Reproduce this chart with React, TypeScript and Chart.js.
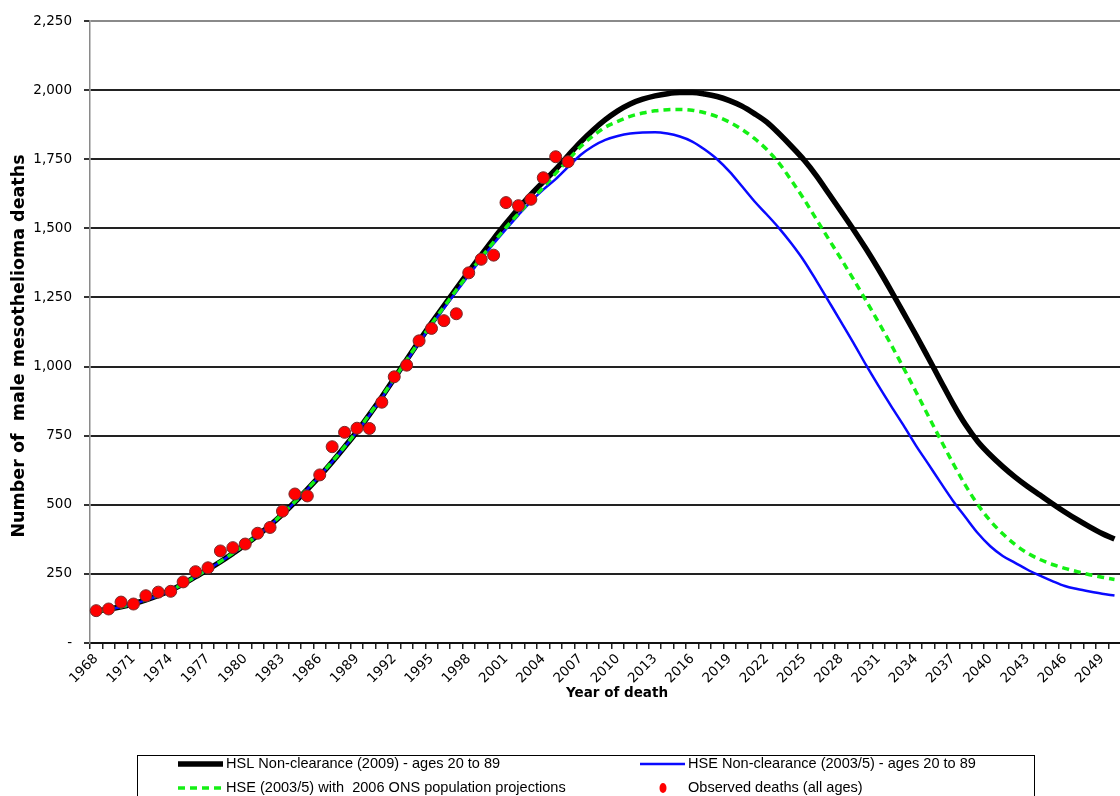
import { useEffect, useRef } from "react";
import { Chart, registerables } from "chart.js";

Chart.register(...registerables);

// Year of death (category axis)
const years = [
  1968, 1969, 1970, 1971, 1972, 1973, 1974, 1975, 1976, 1977,
  1978, 1979, 1980, 1981, 1982, 1983, 1984, 1985, 1986, 1987,
  1988, 1989, 1990, 1991, 1992, 1993, 1994, 1995, 1996, 1997,
  1998, 1999, 2000, 2001, 2002, 2003, 2004, 2005, 2006, 2007,
  2008, 2009, 2010, 2011, 2012, 2013, 2014, 2015, 2016, 2017,
  2018, 2019, 2020, 2021, 2022, 2023, 2024, 2025, 2026, 2027,
  2028, 2029, 2030, 2031, 2032, 2033, 2034, 2035, 2036, 2037,
  2038, 2039, 2040, 2041, 2042, 2043, 2044, 2045, 2046, 2047,
  2048, 2049, 2050,
];

// Years that carry a printed label on the x axis
const xTickLabels = [
  "1968", "1971", "1974", "1977", "1980", "1983", "1986", "1989", "1992",
  "1995", "1998", "2001", "2004", "2007", "2010", "2013", "2016", "2019",
  "2022", "2025", "2028", "2031", "2034", "2037", "2040", "2043", "2046", "2049",
];

// Y axis labels, 0 to 2,250 in steps of 250
const yTickLabels = ["-", "250", "500", "750", "1,000", "1,250", "1,500", "1,750", "2,000", "2,250"];
const yStep = 250;

const xTitle = "Year of death";
const yTitle = "Number of  male mesothelioma deaths";

// HSL Non-clearance (2009) - ages 20 to 89
const hslNonClearance = [
  115, 122, 131, 142, 156, 172, 191, 214, 240, 266,
  294, 324, 355, 389, 426, 466, 510, 556, 604, 655,
  709, 765, 826, 890, 957, 1025, 1092, 1157, 1220, 1282,
  1343, 1403, 1462, 1518, 1572, 1622, 1668, 1713, 1763, 1812,
  1855, 1893, 1925, 1950, 1967, 1979, 1987, 1991, 1991, 1986,
  1977, 1962, 1942, 1915, 1884, 1842, 1796, 1747, 1690, 1625,
  1560, 1494, 1425, 1352, 1275, 1195, 1115, 1032, 948, 865,
  790, 728, 680, 638, 600, 566, 535, 504, 474, 446,
  420, 396, 376,
];

// HSE Non-clearance (2003/5) - ages 20 to 89
const hseNonClearance = [
  114, 121, 130, 141, 155, 171, 190, 213, 239, 266,
  294, 324, 355, 389, 426, 466, 510, 556, 604, 655,
  708, 764, 824, 887, 953, 1020, 1086, 1150, 1211, 1271,
  1330, 1388, 1444, 1497, 1548, 1597, 1640, 1678, 1722, 1765,
  1797, 1820, 1834, 1843, 1847, 1848, 1843, 1832, 1814, 1785,
  1750, 1705, 1652, 1598, 1550, 1500, 1444, 1382, 1310, 1235,
  1160, 1084, 1005, 930, 858, 788, 715, 648, 580, 514,
  455, 397, 350, 315, 290, 265, 244, 224, 206, 195,
  186, 178, 172,
];

// HSE (2003/5) with 2006 ONS population projections
const hseOnsProjection = [
  114, 121, 131, 142, 156, 172, 191, 214, 240, 267,
  295, 325, 356, 390, 427, 467, 511, 557, 605, 656,
  710, 766, 827, 891, 957, 1024, 1090, 1154, 1216, 1277,
  1336, 1394, 1450, 1503, 1553, 1601, 1648, 1699, 1747, 1795,
  1834, 1866, 1887, 1905, 1917, 1925, 1929, 1930, 1927, 1918,
  1904, 1884, 1858, 1825, 1785, 1735, 1672, 1605, 1532, 1460,
  1388, 1314, 1238, 1160, 1080, 996, 910, 822, 735, 650,
  570, 500, 442, 395, 356, 325, 302, 284, 270, 258,
  247, 238, 230,
];

// Observed deaths (all ages), 1968 to 2006
const observedDeaths = [
  117, 123, 148, 141, 171, 184, 187, 221, 258, 272,
  333, 345, 358, 397, 418, 477, 539, 532, 608, 710,
  762, 777, 776, 871, 963, 1005, 1093, 1138, 1166, 1191,
  1339, 1388, 1403, 1593, 1582, 1605, 1683, 1759, 1741,
];

const tickFont = { family: "'DejaVu Sans', sans-serif", size: 13.5 };
const legendFont = "15px 'Liberation Sans', Arial, sans-serif";
const titleFamily = "'DejaVu Sans', sans-serif";

// Axis titles and the two-column boxed legend under the axis
const chartDecor = {
  id: "chartDecor",
  afterDraw(chart: any) {
    const { ctx } = chart;
    ctx.save();
    ctx.fillStyle = "#000";
    ctx.textAlign = "center";
    ctx.textBaseline = "middle";

    ctx.font = `bold 13.5px ${titleFamily}`;
    ctx.fillText(xTitle, 617, 693);

    ctx.save();
    ctx.translate(19, 346);
    ctx.rotate(-Math.PI / 2);
    ctx.font = `bold 17.5px ${titleFamily}`;
    ctx.fillText(yTitle, 0, 0);
    ctx.restore();

    const slots = [
      [178, 764],
      [640, 764],
      [178, 788],
      [640, 788],
    ];
    ctx.strokeStyle = "#000";
    ctx.lineWidth = 1;
    ctx.strokeRect(137.5, 755.5, 897, 80);
    ctx.font = legendFont;
    ctx.textAlign = "left";
    chart.data.datasets.forEach((ds: any, i: number) => {
      const [x, y] = slots[i];
      if (ds.showLine === false) {
        ctx.beginPath();
        ctx.fillStyle = ds.backgroundColor;
        ctx.ellipse(x + 23, y, 3.5, 5, 0, 0, Math.PI * 2);
        ctx.fill();
      } else {
        ctx.beginPath();
        ctx.strokeStyle = ds.borderColor;
        ctx.lineWidth = ds.borderWidth;
        ctx.setLineDash(ds.borderDash || []);
        ctx.moveTo(x, y);
        ctx.lineTo(x + 45, y);
        ctx.stroke();
        ctx.setLineDash([]);
      }
      ctx.fillStyle = "#000";
      ctx.save();
      ctx.translate(x + 48, y);
      ctx.scale(0.97, 1);
      ctx.fillText(ds.label, 0, 0);
      ctx.restore();
    });
    ctx.restore();
  },
};

export default function App() {
  const canvasRef = useRef<HTMLCanvasElement | null>(null);

  useEffect(() => {
    const canvas = canvasRef.current;
    if (!canvas) return;
    const chart = new Chart(canvas, {
      type: "line",
      data: {
        labels: years.map(String),
        datasets: [
          {
            label: "HSL Non-clearance (2009) - ages 20 to 89",
            data: hslNonClearance,
            borderColor: "#000000",
            backgroundColor: "#000000",
            borderWidth: 5.5,
            pointRadius: 0,
            cubicInterpolationMode: "monotone",
            order: 3,
          },
          {
            label: "HSE Non-clearance (2003/5) - ages 20 to 89",
            data: hseNonClearance,
            borderColor: "#0a0aff",
            backgroundColor: "#0a0aff",
            borderWidth: 2.5,
            pointRadius: 0,
            cubicInterpolationMode: "monotone",
            order: 2,
          },
          {
            label: "HSE (2003/5) with  2006 ONS population projections",
            data: hseOnsProjection,
            borderColor: "#14f014",
            backgroundColor: "#14f014",
            borderWidth: 3.5,
            borderDash: [7, 5],
            pointRadius: 0,
            cubicInterpolationMode: "monotone",
            order: 1,
          },
          {
            label: "Observed deaths (all ages)",
            data: observedDeaths,
            showLine: false,
            borderColor: "#7a2a2a",
            backgroundColor: "#ff0000",
            borderWidth: 1,
            pointRadius: 6,
            order: 0,
          },
        ],
      },
      options: {
        responsive: false,
        animation: false,
        events: [],
        layout: { padding: { top: 21, right: 0, bottom: 93, left: 0 } },
        plugins: {
          legend: { display: false },
          tooltip: { enabled: false },
        },
        scales: {
          x: {
            type: "category",
            offset: true,
            grid: {
              offset: true,
              drawOnChartArea: false,
              tickLength: 6,
              tickColor: "#222",
              lineWidth: 1.5,
            },
            border: { color: "#111", width: 2 },
            ticks: {
              autoSkip: false,
              minRotation: 45,
              maxRotation: 45,
              padding: 2,
              color: "#000",
              font: tickFont,
              callback(this: any, value: any) {
                const label = this.getLabelForValue(value);
                return xTickLabels.includes(label) ? label : "";
              },
            },
            afterFit(scale: any) {
              scale.height = 60;
            },
          },
          y: {
            min: 0,
            max: 2250,
            ticks: {
              stepSize: yStep,
              padding: 12,
              color: "#000",
              font: tickFont,
              callback: (value: any) => yTickLabels[Math.round(Number(value) / yStep)],
            },
            grid: {
              color: (ctx: any) => (ctx.tick && ctx.tick.value === 2250 ? "#8a8a8a" : "#222"),
              tickColor: "#333",
              lineWidth: 2,
              tickLength: 6,
            },
            border: { color: "#8a8a8a", width: 1.5 },
            afterFit(scale: any) {
              scale.width = 90;
            },
          },
        },
      },
      plugins: [chartDecor],
    });
    return () => chart.destroy();
  }, []);

  return (
    <div
      style={{
        position: "fixed",
        left: 0,
        top: 0,
        width: 1120,
        height: 796,
        overflow: "hidden",
        background: "#fff",
      }}
    >
      <canvas ref={canvasRef} width={1128} height={796} style={{ display: "block" }} />
    </div>
  );
}
